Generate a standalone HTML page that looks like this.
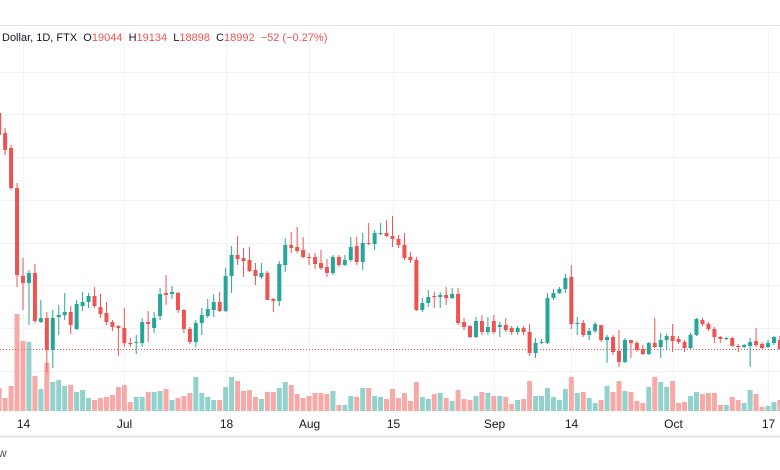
<!DOCTYPE html>
<html><head><meta charset="utf-8">
<style>
html,body{margin:0;padding:0;background:#fff;}
#wrap{position:relative;width:780px;height:470px;overflow:hidden;font-family:"Liberation Sans",sans-serif;}
#legend{position:absolute;left:2px;top:32px;font-size:11px;color:#131722;white-space:pre;}
#legend .v{color:#ef5350;}
#brand{position:absolute;left:-2px;top:446px;font-size:12px;color:#555;}
</style></head>
<body>
<div id="wrap">
<svg id="chart" width="780" height="470"></svg>
<div id="legend">Dollar, 1D, FTX  O<span class="v">19044</span>  H<span class="v">19134</span>  L<span class="v">18898</span>  C<span class="v">18992</span>  <span class="v">−52 (−0.27%)</span></div>
<div id="brand">w</div>
</div>
<script>
const opens=[30800,29800,29050,27050,22650,22300,22800,20350,20550,18950,20600,20700,20850,20000,21150,21350,21650,21100,20800,20350,20150,20050,19300,19300,19300,20350,20050,20650,21800,21750,21800,20950,20000,19350,20300,20650,20950,21350,20900,22650,23700,23550,23450,22950,22600,22800,21500,21400,23200,24200,24100,23950,23600,23600,23300,23100,22800,23600,23200,23450,24150,23350,24300,24250,24750,24800,24650,24500,24200,23600,23450,20950,21300,21650,21600,21700,21550,21750,20350,20150,19600,20400,19850,20400,20100,20200,20050,19850,20050,19850,18800,19300,19300,21550,21800,22000,22600,20250,20300,19700,19900,20200,19450,19600,18900,18350,19450,19300,19000,18750,19300,19100,19450,19650,19500,19350,19050,19700,20450,20250,20000,19600,19500,19550,19150,19100,19150,19400,19250,19100,19300,19450];
const closes=[29700,28950,27050,22700,22300,22800,20400,20550,18950,20550,20700,20850,20200,21250,21350,21650,21150,20750,20350,20100,20050,19300,19250,19350,20350,20250,20550,21750,21700,21850,20950,20000,19350,20300,20700,21000,21350,20900,22650,23700,23500,23400,22900,22650,22800,21450,21400,23250,24200,24050,23900,23600,23550,23250,23050,22800,23600,23200,23450,24100,23350,24300,24250,24800,24800,24650,24500,24200,23550,23450,20950,21300,21600,21600,21700,21550,21750,20300,20100,19600,20400,19850,20100,19850,20200,19950,19850,20050,19850,18800,19300,19350,21550,21800,22000,22550,20250,20300,19700,19900,20250,19450,19600,18850,18350,19450,19300,18950,18750,19300,19100,19450,19650,19400,19350,19050,19700,20500,20250,20000,19600,19500,19550,19150,19100,19200,19350,19200,19050,19300,19600,19000];
const highs=[30950,30050,29200,27300,23550,22950,23250,21450,20850,20950,21200,21800,21150,21450,21850,21800,22100,21750,21350,20450,20200,21050,19550,19700,20550,20900,20850,22050,22700,22150,21850,21000,20100,20450,21050,21500,21750,21850,23050,24150,24650,24050,24100,23300,23300,22900,21550,23400,24550,24850,25100,24600,23800,23800,23950,23500,23700,23700,23700,24600,24600,24800,25300,24950,25300,25450,25650,24700,24800,23850,23600,21550,21950,21850,21850,22100,22050,22050,20550,20200,20600,20700,20600,20700,20350,20550,20150,20150,20150,20250,19550,19500,21800,22000,22100,22750,23200,20600,20450,20050,20350,20200,19700,19700,19950,19550,19450,19400,19200,19350,20550,19800,19750,20250,19650,19450,19800,20550,20550,20350,20100,19650,19600,19600,19250,19250,19550,20050,19350,19450,19650,19650];
const lows=[29600,28700,26950,22100,20950,20200,20300,20300,17850,18050,19700,20450,19750,19950,20900,21050,21050,20550,20200,19900,18650,19100,19100,18750,19100,19350,19800,20450,21200,21500,20800,19800,19250,19100,19700,20550,20600,20850,20850,21800,23200,22600,22850,22200,22500,21450,20850,21150,22850,23800,23800,23550,23200,23000,22950,22600,22700,23100,23150,23350,23200,22950,24200,23950,24700,24600,24100,24050,23450,23300,20900,20850,21100,21050,21050,21200,21500,20200,19950,19550,19550,19700,19700,19750,19600,19850,19700,19700,19700,18650,18550,19250,19250,21450,21750,21800,20000,19700,19600,19450,19800,19350,18300,18700,18100,18300,18550,18850,18700,18700,19050,18550,18950,18850,19250,18850,19000,19650,20150,19900,19300,19300,19450,19100,18850,19050,18100,19100,19000,19050,19200,18950];
const volumes=[23,13,25,97,70,69,35,22,48,29,31,25,26,19,21,13,11,13,14,16,24,26,9,14,14,19,19,20,22,11,13,15,18,34,18,14,11,11,24,34,30,20,21,14,12,19,19,23,29,26,17,13,15,18,18,17,20,6,6,15,14,23,23,15,14,12,22,13,18,10,29,14,12,17,18,13,10,21,12,11,15,19,18,15,15,14,7,11,12,30,15,15,23,14,11,22,34,18,19,13,8,11,25,19,30,20,19,10,8,24,34,29,24,30,8,9,15,19,17,18,18,6,6,14,11,8,21,17,4,5,9,11];
const lastClose=18992;

const NS="http://www.w3.org/2000/svg";
const svg=document.getElementById('chart');
function yPrice(p){return (36450-p)/50;}
function xIdx(i){return -0.84+5.96*i;}
function yVol(v){return 411-v;}
function mk(tag,attrs,parent){const e=document.createElementNS(NS,tag);for(const k in attrs)e.setAttribute(k,attrs[k]);(parent||svg).appendChild(e);return e;}

// frame lines
let ln=mk('line',{x1:0,x2:780,y1:25.5,y2:25.5,stroke:'#e0e3eb','stroke-width':1});


ln=mk('line',{x1:0,x2:780,y1:436.5,y2:436.5,stroke:'#e0e3eb','stroke-width':2});



// horizontal grid
for(let k=1;k<10;k++){
  const y=Math.round(29+42.7*k)+0.5;
  if(y>411)break;
  const g=mk('line',{x1:0,x2:780,y1:y,y2:y,stroke:'#f0f3fa','stroke-width':1});
  
  
}
// time axis labels (by candle index)
const tickIdx=[4,21,38,52,66,83,96,113,129];
const tickLabels=['14','Jul','18','Aug','15','Sep','14','Oct','17'];
tickIdx.forEach((ti,k)=>{
  const x=Math.round(xIdx(ti))+0.5;
  const g=mk('line',{x1:x,x2:x,y1:29,y2:413,stroke:'#f0f3fa','stroke-width':1});
  
  
  const t=mk('text',{x:x,y:428,'text-anchor':'middle','font-size':12,fill:'#131722','font-family':'Liberation Sans, sans-serif'});
  t.textContent=tickLabels[k];
  
  
});

// volumes
volumes.forEach((v,i)=>{
  const up=closes[i]>=opens[i];
  const r=mk('rect',{x:xIdx(i)-2.5,y:yVol(v),width:5,height:v,fill:up?'#92d2cc':'#f7a9a7'});
  
  
});

// last price dotted line
const ly=Math.round(yPrice(lastClose))+0.5;
ln=mk('line',{x1:0,x2:780,y1:ly,y2:ly,stroke:'#ef5350','stroke-width':1,'stroke-dasharray':'1,2'});



// candles
opens.forEach((o,i)=>{
  const c=closes[i],up=c>=o,col=up?'#26a69a':'#ef5350';
  const x=xIdx(i);
  const w=mk('line',{x1:x,x2:x,y1:yPrice(highs[i]),y2:yPrice(lows[i]),stroke:col,'stroke-width':1});
  
  
  const top=yPrice(Math.max(o,c)),bot=yPrice(Math.min(o,c));
  const b=mk('rect',{x:x-2,y:top,width:4,height:Math.max(1,bot-top),fill:col});
  
  
});
</script>
</body></html>
